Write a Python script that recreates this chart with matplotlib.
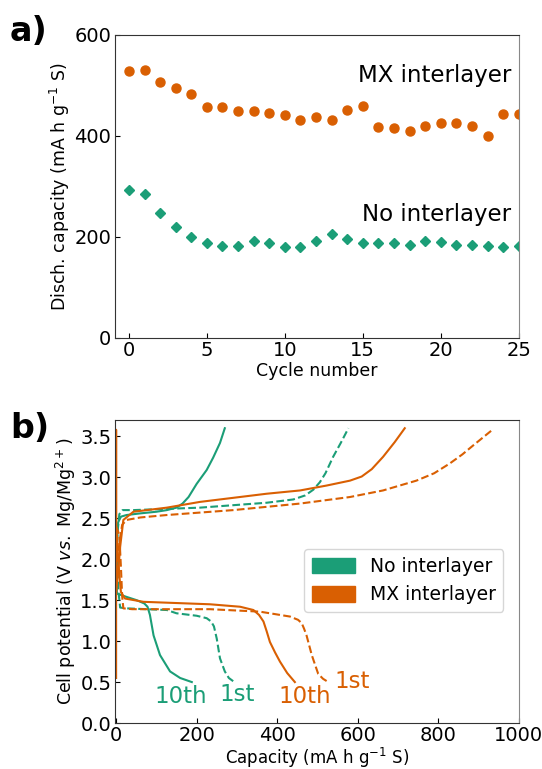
import numpy as np
import matplotlib.pyplot as plt
from matplotlib.patches import Patch

# colours (Dark2)
green = '#1b9e77'
orange = '#d95f02'

# a) discharge capacity per cycle
cycles = np.arange(26)
cap_mx = [528, 530, 507, 496, 483, 457, 458, 450, 449, 446, 442, 432, 438,
          432, 451, 460, 418, 415, 409, 419, 426, 426, 420, 399, 443, 443]
cap_none = [294, 286, 248, 220, 200, 189, 182, 182, 192, 189, 180, 180, 192,
            206, 196, 188, 188, 189, 185, 192, 191, 184, 185, 183, 180, 182]

# b) voltage profiles (capacity, voltage)
# no interlayer, 10th cycle
n10_dis_q = [0, 1, 2, 26, 51, 70, 78, 84, 93, 109, 134, 159, 188]
n10_dis_v = [2.3, 1.8, 1.58, 1.54, 1.50, 1.46, 1.42, 1.32, 1.07, 0.83, 0.63, 0.55, 0.50]
n10_chg_q = [0, 2, 5, 12, 26, 60, 100, 126, 150, 165, 180, 200, 225, 241, 258, 270]
n10_chg_v = [1.6, 2.2, 2.45, 2.52, 2.54, 2.56, 2.58, 2.60, 2.63, 2.68, 2.76, 2.92, 3.09, 3.24, 3.42, 3.6]
# no interlayer, 1st cycle
n1_dis_q = [0, 3, 6, 10, 26, 126, 150, 200, 225, 236, 243, 250, 258, 270, 280, 291]
n1_dis_v = [2.4, 1.9, 1.6, 1.41, 1.40, 1.38, 1.34, 1.31, 1.28, 1.24, 1.18, 1.03, 0.79, 0.63, 0.55, 0.51]
n1_chg_q = [0, 3, 8, 16, 43, 208, 374, 440, 470, 490, 506, 520, 539, 558, 577]
n1_chg_v = [1.8, 2.3, 2.55, 2.60, 2.60, 2.63, 2.69, 2.73, 2.78, 2.85, 2.94, 3.05, 3.25, 3.42, 3.6]
# MX interlayer, 10th cycle
m10_dis_q = [0, 0, 0, 4, 8, 12, 22, 68, 233, 308, 341, 355, 366, 374, 382, 395, 407, 425, 444]
m10_dis_v = [0.55, 3.58, 2.4, 2.1, 1.8, 1.6, 1.52, 1.48, 1.45, 1.42, 1.38, 1.32, 1.24, 1.12, 0.99, 0.86, 0.75, 0.61, 0.50]
m10_chg_q = [0, 6, 10, 18, 43, 126, 208, 291, 374, 457, 523, 581, 610, 635, 663, 692, 717]
m10_chg_v = [1.6, 1.9, 2.15, 2.48, 2.58, 2.63, 2.70, 2.75, 2.80, 2.84, 2.90, 2.96, 3.01, 3.10, 3.25, 3.43, 3.6]
# MX interlayer, 1st cycle
m1_dis_q = [0, 8, 12, 15, 18, 40, 233, 357, 432, 452, 461, 467, 473, 486, 495, 502, 514, 527]
m1_dis_v = [2.4, 2.3, 1.9, 1.55, 1.40, 1.39, 1.39, 1.36, 1.30, 1.26, 1.22, 1.15, 1.07, 0.83, 0.70, 0.60, 0.54, 0.50]
m1_chg_q = [0, 8, 15, 26, 60, 126, 291, 457, 581, 663, 746, 790, 829, 860, 887, 912, 932]
m1_chg_v = [1.7, 2.2, 2.42, 2.48, 2.51, 2.54, 2.60, 2.68, 2.76, 2.84, 2.96, 3.05, 3.17, 3.28, 3.39, 3.49, 3.57]

fig = plt.figure(figsize=(5.42, 7.69), dpi=100)
ax1 = fig.add_axes([0.212, 0.5605, 0.745, 0.394])
ax2 = fig.add_axes([0.212, 0.0598, 0.745, 0.394])

# Panel a
ax1.plot(cycles, cap_mx, 'o', color=orange, ms=6.5)
ax1.plot(cycles, cap_none, 'D', color=green, ms=5.5)
ax1.text(24.5, 520, 'MX interlayer', fontsize=16.5, ha='right', va='center')
ax1.text(24.5, 245, 'No interlayer', fontsize=16.5, ha='right', va='center')
ax1.set_xlim(-0.9, 25)
ax1.set_ylim(0, 600)
ax1.set_xticks([0, 5, 10, 15, 20, 25])
ax1.set_yticks([0, 200, 400, 600])
ax1.set_xlabel('Cycle number', fontsize=12.5, labelpad=1)
ax1.set_ylabel('Disch. capacity (mA h g$^{-1}$ S)', fontsize=12.5, labelpad=2)

# Panel b
ax2.plot(n10_dis_q, n10_dis_v, '-', color=green, lw=1.5)
ax2.plot(n10_chg_q, n10_chg_v, '-', color=green, lw=1.5)
ax2.plot(n1_dis_q, n1_dis_v, '--', color=green, lw=1.5)
ax2.plot(n1_chg_q, n1_chg_v, '--', color=green, lw=1.5)
ax2.plot(m1_dis_q, m1_dis_v, '--', color=orange, lw=1.5)
ax2.plot(m1_chg_q, m1_chg_v, '--', color=orange, lw=1.5)
ax2.plot(m10_dis_q, m10_dis_v, '-', color=orange, lw=1.5)
ax2.plot(m10_chg_q, m10_chg_v, '-', color=orange, lw=1.5)

ax2.text(161, 0.32, '10th', color=green, fontsize=16.5, ha='center', va='center')
ax2.text(300, 0.35, '1st', color=green, fontsize=16.5, ha='center', va='center')
ax2.text(469, 0.32, '10th', color=orange, fontsize=16.5, ha='center', va='center')
ax2.text(586, 0.51, '1st', color=orange, fontsize=16.5, ha='center', va='center')

handles = [Patch(color=green, label='No interlayer'),
           Patch(color=orange, label='MX interlayer')]
ax2.legend(handles=handles, loc='center right', fontsize=13.5,
           bbox_to_anchor=(0.985, 0.47), handlelength=2.3, handleheight=0.9)

ax2.set_xlim(-3, 1000)
ax2.set_ylim(0, 3.7)
ax2.set_xticks([0, 200, 400, 600, 800, 1000])
ax2.set_yticks(np.arange(0, 3.6, 0.5))
ax2.set_xlabel('Capacity (mA h g$^{-1}$ S)', fontsize=12, labelpad=0)
ax2.set_ylabel('Cell potential (V $vs.$ Mg/Mg$^{2+}$)', fontsize=12.5, labelpad=2)

for ax in (ax1, ax2):
    ax.tick_params(direction='in', labelsize=14, pad=2.5)
    for s in ax.spines.values():
        s.set_color('#333333')
    ax.spines['right'].set_color('#888888')

fig.text(0.018, 0.947, 'a)', fontsize=24, fontweight='bold')
fig.text(0.018, 0.43, 'b)', fontsize=24, fontweight='bold')

fig.savefig('out.png', dpi=100)
